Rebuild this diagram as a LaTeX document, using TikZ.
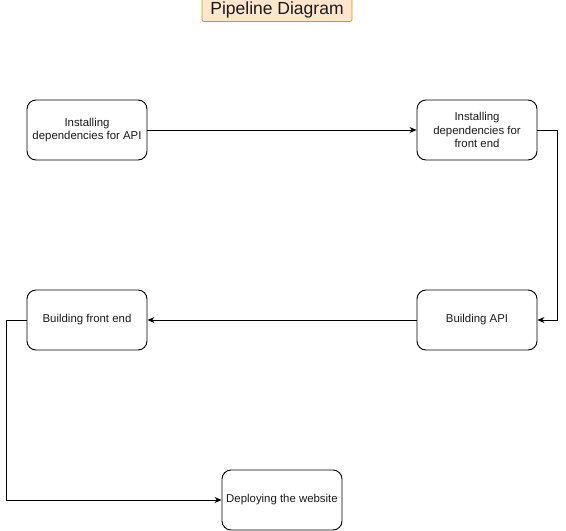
\documentclass[tikz,border=0pt]{standalone}
\usepackage{fontspec}
\setmainfont{Liberation Sans}
\usepackage{tikz}
\usetikzlibrary{arrows.meta,positioning}
\definecolor{titlefill}{HTML}{FFE6CC}
\definecolor{titledraw}{HTML}{D79B00}
\definecolor{textgrey}{HTML}{1A1A1A}
\tikzset{
	pipeline diagram/.style={
		x=1pt, y=-1pt,
		line width=0.9pt,
		>={Stealth[length=7pt,width=6pt]},
		every node/.style={font=\fontsize{11.4}{13.5}\selectfont, text=textgrey}},
	stagebox/.style={draw, rounded corners=9pt, minimum width=120pt,
		minimum height=60pt, align=center, inner sep=0pt},
	titlebox/.style={draw=titledraw, fill=titlefill, rounded corners=2pt,
		minimum width=150pt, minimum height=20pt, line width=0.7pt,
		font=\fontsize{17.5}{19}\selectfont},
	flow/.style={->, rounded corners=0pt}
}

\begin{document}
\begin{tikzpicture}[pipeline diagram]
  \useasboundingbox (0,0) rectangle (566,531);
  \node[titlebox] (title) at (277,10) {Pipeline Diagram};
  \node[stagebox] (apideps)   at (87,130)  {Installing\\dependencies for API};
  \node[stagebox] (frontdeps) at (477,130) {Installing\\dependencies for\\front end};
  \node[stagebox] (apibuild)  at (477,320) {Building API};
  \node[stagebox] (frontbuild) at (87,320) {Building front end};
  \node[stagebox] (deploy)    at (282,500) {Deploying the website};
  % bends of the connectors
  \coordinate (bendB) at ([xshift=20pt]frontdeps.east);
  \coordinate (bendD) at ([xshift=-20pt]frontbuild.west);
  \draw[flow] (apideps) -- (frontdeps);
  \draw[flow] (frontdeps.east) -- (bendB) |- (apibuild.east);
  \draw[flow] (apibuild) -- (frontbuild);
  \draw[flow] (frontbuild.west) -- (bendD) |- (deploy.west);
\end{tikzpicture}
\end{document}
